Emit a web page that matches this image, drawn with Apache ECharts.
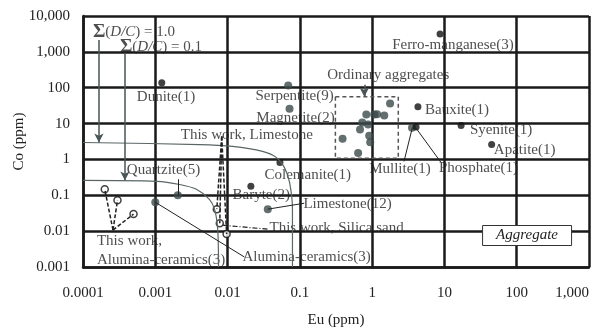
<!DOCTYPE html>
<html>
<head>
<meta charset="utf-8">
<script src="https://cdn.jsdelivr.net/npm/echarts@6/dist/echarts.min.js"></script>
<style>
  html, body { margin: 0; padding: 0; background: #fff; }
  #chart { width: 602px; height: 328px; }
</style>
</head>
<body>
<div id="chart"></div>
<script>
  var xTickLabels = ['0.0001', '0.001', '0.01', '0.1', '1', '10', '100', '1,000'];
  var yTickLabels = ['0.001', '0.01', '0.1', '1', '10', '100', '1,000', '10,000'];

  // literature data [Eu, Co]
  var blackDots = [[0.00123, 138], [8.7, 3160], [4.3, 29.5], [17, 8.8], [45, 2.6], [4.05, 8.0], [0.053, 0.82], [0.021, 0.18]];
  var grayDots = [[0.069, 115], [0.072, 26], [3.56, 7.7], [0.036, 0.041], [0.00205, 0.1], [0.001, 0.064]];
  var aggregateDots = [[1.77, 36], [0.83, 17.8], [1.07, 17.8], [1.17, 18.2], [1.47, 16.7], [0.73, 10.7], [0.88, 9.4],
                       [0.68, 6.8], [0.91, 4.6], [0.39, 3.8], [0.94, 3.0], [0.64, 1.5]];
  // this work (open circles)
  var twLimestone = [[0.0071, 0.041], [0.0078, 0.0166], [0.0097, 0.0083]];
  var twAlumina = [[0.0002, 0.147], [0.0003, 0.073], [0.0005, 0.03]];

  // sum(D/C) limit curves
  var sum10Curve = [[0.0001, 2.97], [0.0041, 2.6], [0.0117, 2.3], [0.0305, 1.67], [0.047, 1.14], [0.061, 0.6], [0.072, 0.23], [0.079, 0.041], [0.079, 0.001]];
  var sum01Curve = [[0.0001, 0.26], [0.00105, 0.245], [0.00218, 0.2], [0.0037, 0.147], [0.0056, 0.077], [0.0066, 0.041], [0.0073, 0.0114], [0.0075, 0.001]];

  // ordinary aggregates range box [[Eu, Co], [Eu, Co]]
  var aggregateBox = [[0.31, 56], [2.3, 1.07]];

  // text labels [Eu, Co, text]
  var labels = [
    [1.37e-4, 3590, 'Σ(D/C) = 1.0'],
    [3.24e-4, 1376, 'Σ(D/C) = 0.1'],
    [5.56e-4, 56, 'Dunite(1)'],
    [0.0243, 60, 'Serpentite(9)'],
    [0.025, 14.7, 'Magnetite(2)'],
    [0.239, 230, 'Ordinary aggregates'],
    [1.89, 1565, 'Ferro-manganese(3)'],
    [5.38, 24.5, 'Bauxite(1)'],
    [22.5, 6.8, 'Syenite(1)'],
    [48.2, 1.78, 'Apatite(1)'],
    [0.00225, 4.64, 'This work, Limestone'],
    [4.04e-4, 0.495, 'Quartzite(5)'],
    [0.0324, 0.36, 'Colemanite(1)'],
    [0.91, 0.53, 'Mullite(1)'],
    [8.4, 0.56, 'Phosphate(1)'],
    [0.0117, 0.1, 'Baryte(2)'],
    [0.112, 0.056, 'Limestone(12)'],
    [0.038, 0.0121, 'This work, Silica sand'],
    [1.56e-4, 0.0053, 'This work,'],
    [1.56e-4, 0.00156, 'Alumina-ceramics(3)'],
    [0.0161, 0.0019, 'Alumina-ceramics(3)']
  ];

  // arrows and leader lines [[Eu, Co], [Eu, Co]]
  var arrows = [
    [[1.66e-4, 2150], [1.66e-4, 2.97]],
    [[3.8e-4, 940], [3.8e-4, 0.26]],
    [[0.78, 121], [0.78, 56]]
  ];
  var leaders = [
    [[0.00205, 0.1], [0.00205, 0.28]],
    [[0.001, 0.064], [0.0171, 0.0019]],
    [[0.036, 0.041], [0.115, 0.06]],
    [[3.6, 7.7], [2.76, 0.88]],
    [[4.0, 7.7], [8.95, 0.83]]
  ];
  var twLimestoneFrom = [0.0083, 4.35];
  var twAluminaFrom = [0.00026, 0.0107];
  var silicaLeader = [[0.0356, 0.0114], [0.0083, 0.0147]];

  var serif = 'Liberation Serif';
  var ink = '#1a1a1a';
  var slate = '#3c4a4a';

  function pairs(list) {
    return list.map(function (p) { return [{ coord: p[0] }, { coord: p[1] }]; });
  }
  function fan(from, list) {
    return list.map(function (p) { return [{ coord: from }, { coord: p }]; });
  }

  var myChart = echarts.init(document.getElementById('chart'));
  var option = {
    animation: false,
    backgroundColor: '#fff',
    title: {
      text: 'Aggregate',
      right: 30,
      top: 225,
      padding: [3, 14, 3, 14],
      borderWidth: 1,
      borderColor: '#333',
      backgroundColor: '#fff',
      textStyle: { fontFamily: serif, fontSize: 15, fontStyle: 'italic', fontWeight: 'normal', color: '#222' }
    },
    grid: { left: 83, right: 13, top: 16, bottom: 61, outerBoundsMode: 'none', containLabel: false },
    xAxis: {
      type: 'log',
      logBase: 10,
      min: 0.0001,
      max: 1000,
      name: 'Eu (ppm)',
      nameLocation: 'middle',
      nameGap: 46,
      nameMoveOverlap: false,
      nameTextStyle: { fontFamily: serif, fontSize: 15, color: '#222' },
      axisLine: { lineStyle: { color: ink, width: 2.5 } },
      axisTick: { show: false },
      splitLine: { show: true, lineStyle: { color: ink, width: 2.5 } },
      axisLabel: {
        fontFamily: serif, fontSize: 15, color: '#222', margin: 19,
        alignMaxLabel: 'right',
        formatter: function (v) { return xTickLabels[Math.round(Math.log10(v)) + 4]; }
      }
    },
    yAxis: {
      type: 'log',
      logBase: 10,
      min: 0.001,
      max: 10000,
      name: 'Co (ppm)',
      nameLocation: 'middle',
      nameGap: 56,
      nameMoveOverlap: false,
      nameTextStyle: { fontFamily: serif, fontSize: 15, color: '#222' },
      axisLine: { lineStyle: { color: ink, width: 2.5 } },
      axisTick: { show: false },
      splitLine: { show: true, lineStyle: { color: ink, width: 2.5 } },
      axisLabel: {
        fontFamily: serif, fontSize: 15, color: '#222', margin: 13,
        formatter: function (v) { return yTickLabels[Math.round(Math.log10(v)) + 3]; }
      }
    },
    series: [
      {
        type: 'line', data: sum10Curve, symbol: 'none', smooth: 0.3, silent: true,
        lineStyle: { color: '#5a6666', width: 1.2 }
      },
      {
        type: 'line', data: sum01Curve, symbol: 'none', smooth: 0.3, silent: true,
        lineStyle: { color: '#5a6666', width: 1.2 }
      },
      {
        type: 'scatter', data: [], silent: true,
        markLine: {
          silent: true, symbol: ['none', 'arrow'], symbolSize: [7, 9],
          label: { show: false },
          lineStyle: { color: '#4a5656', width: 1.5, type: 'solid' },
          data: pairs(arrows)
        },
        markArea: {
          silent: true,
          itemStyle: { color: 'rgba(0,0,0,0)', borderColor: '#555', borderWidth: 1.5, borderType: [4, 3] },
          data: [[{ coord: aggregateBox[0] }, { coord: aggregateBox[1] }]]
        }
      },
      {
        type: 'scatter', data: [], silent: true,
        markLine: {
          silent: true, symbol: ['none', 'none'],
          label: { show: false },
          lineStyle: { color: '#222', width: 1, type: 'solid' },
          data: pairs(leaders)
        }
      },
      {
        type: 'scatter', data: [], silent: true,
        markLine: {
          silent: true, symbol: ['none', 'none'],
          label: { show: false },
          lineStyle: { color: '#222', width: 1.5, type: [4, 2] },
          data: fan(twLimestoneFrom, twLimestone).concat(fan(twAluminaFrom, twAlumina))
        }
      },
      {
        type: 'scatter', data: [], silent: true,
        markLine: {
          silent: true, symbol: ['none', 'none'],
          label: { show: false },
          lineStyle: { color: '#222', width: 1.2, type: [5, 2, 1, 2] },
          data: pairs([silicaLeader])
        }
      },
      {
        type: 'scatter', data: aggregateDots, symbolSize: 8, silent: true,
        itemStyle: { color: slate }
      },
      {
        type: 'scatter', data: grayDots, symbolSize: 8, silent: true,
        itemStyle: { color: slate }
      },
      {
        type: 'scatter', data: blackDots, symbolSize: 7, silent: true,
        itemStyle: { color: '#111' }
      },
      {
        type: 'scatter', data: twLimestone.concat(twAlumina), symbolSize: 7, silent: true,
        itemStyle: { color: '#fff', borderColor: '#111', borderWidth: 1.5 }
      },
      {
        type: 'scatter', data: labels, symbolSize: 0, silent: true,
        label: {
          show: true, position: 'right', distance: 0,
          fontFamily: serif, fontSize: 15, color: '#222',
          formatter: function (p) {
            return p.data[2].replace('Σ', '{s|Σ}').replace('D/C', '{i|D/C}');
          },
          rich: {
            s: { fontFamily: serif, fontSize: 19, fontWeight: 'bold', color: '#222' },
            i: { fontFamily: serif, fontSize: 15, fontStyle: 'italic', color: '#222' }
          }
        }
      }
    ]
  };
  option && myChart.setOption(option);
</script>
</body>
</html>
